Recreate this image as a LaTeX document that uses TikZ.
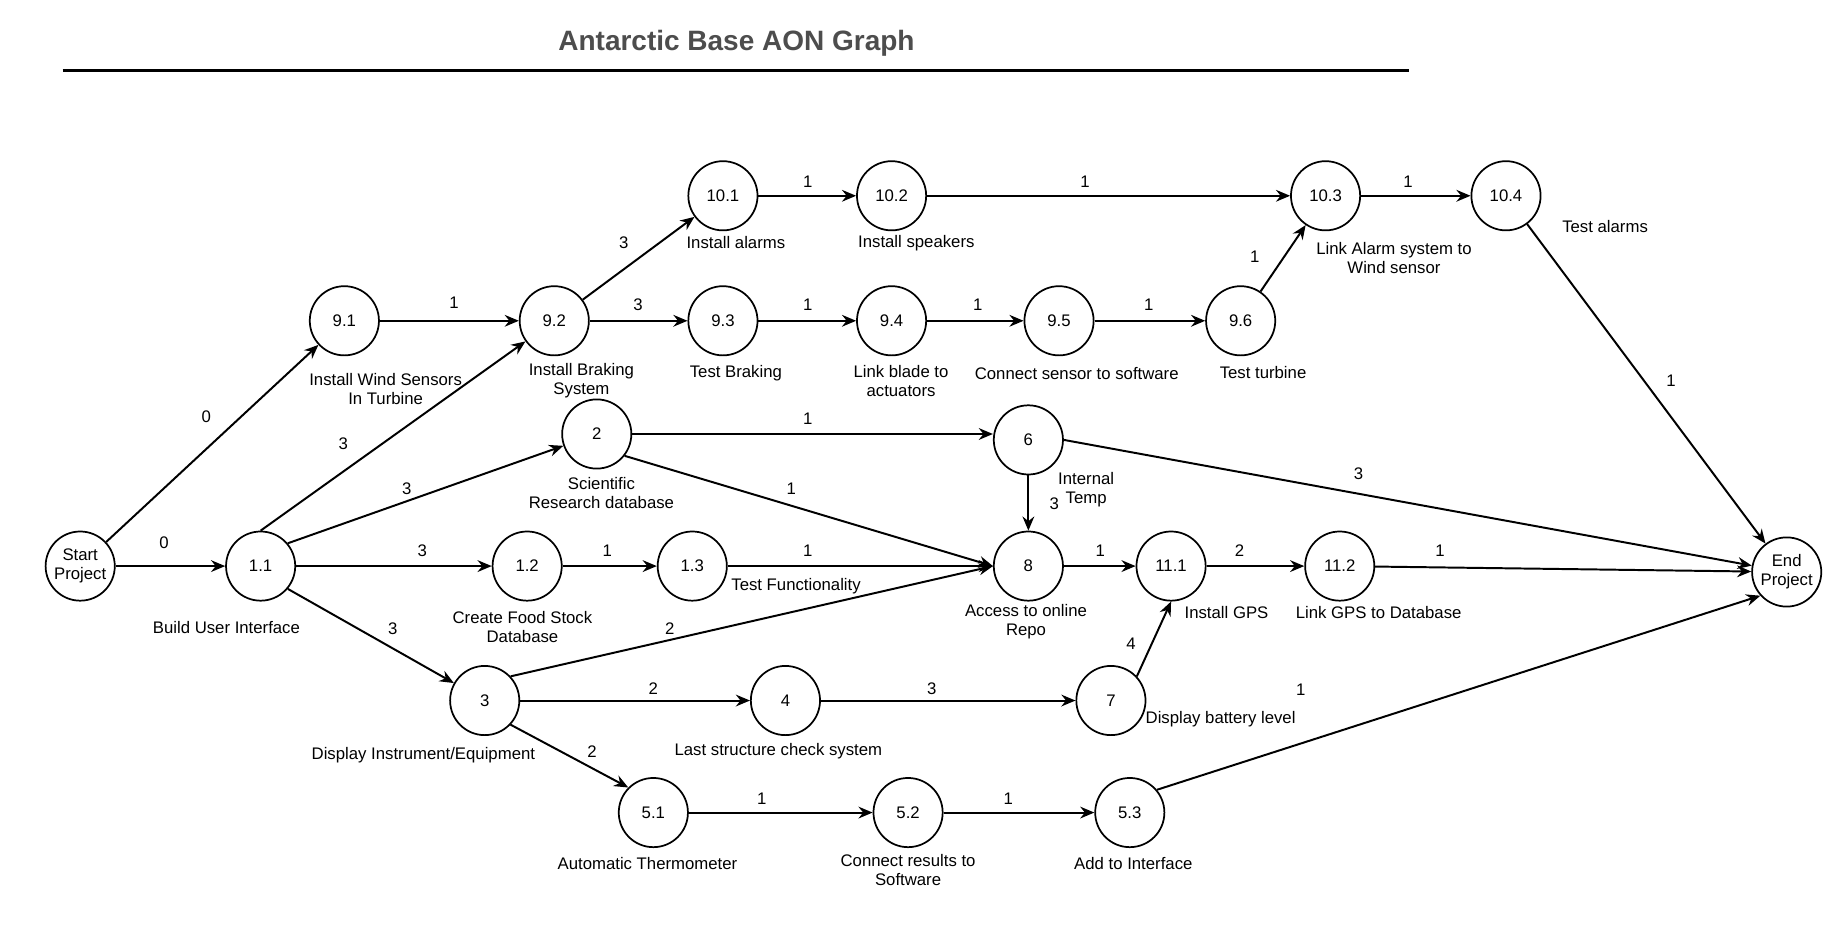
\documentclass[tikz,border=0pt]{standalone}
\usepackage{fontspec}
\setmainfont{Liberation Sans}
\usepackage{tikz}
\usetikzlibrary{arrows.meta}
\definecolor{titlegray}{RGB}{77,77,77}

\begin{document}
\begin{tikzpicture}[x=0.75pt,y=-0.75pt,
act/.style={circle,draw,line width=1.1pt,minimum size=44pt,inner sep=0pt,align=center,font=\fontsize{10.65}{12}\selectfont},
txt/.style={align=center,inner sep=0pt,font=\fontsize{10.65}{12}\selectfont},
wt/.style={inner sep=0pt,font=\fontsize{10.65}{12}\selectfont},
arr/.style={line width=1.25pt,-{Stealth[length=9pt,width=7.5pt,inset=3pt]}}]
\useasboundingbox (0,0) rectangle (1567,788.5);

\node[font=\fontsize{17.8}{20}\selectfont\bfseries,text=titlegray,anchor=base] (title) at (624.5,43) {Antarctic Base AON Graph};
\coordinate (rulel) at (53,60);
\coordinate (ruler) at (1195,60);
\draw[line width=2pt] (rulel) -- (ruler);

\node[act] (start) at (68,480) {Start\\Project};
\node[act] (n11) at (221,480) {1.1};
\node[act] (n91) at (292,272) {9.1};
\node[act] (n92) at (470,272) {9.2};
\node[act] (n101) at (613,166) {10.1};
\node[act] (n102) at (756,166) {10.2};
\node[act] (n103) at (1124,166) {10.3};
\node[act] (n104) at (1277,166) {10.4};
\node[act] (n93) at (613,272) {9.3};
\node[act] (n94) at (756,272) {9.4};
\node[act] (n95) at (898,272) {9.5};
\node[act] (n96) at (1052,272) {9.6};
\node[act] (n2) at (506,368) {2};
\node[act] (n6) at (872,373) {6};
\node[act] (n12) at (447,480) {1.2};
\node[act] (n13) at (587,480) {1.3};
\node[act] (n8) at (872,480) {8};
\node[act] (n111) at (993,480) {11.1};
\node[act] (n112) at (1136,480) {11.2};
\node[act] (nend) at (1515,485) {End\\Project};
\node[act] (n3) at (411,594) {3};
\node[act] (n4) at (666,594) {4};
\node[act] (n7) at (942,594) {7};
\node[act] (n51) at (554,689) {5.1};
\node[act] (n52) at (770,689) {5.2};
\node[act] (n53) at (958,689) {5.3};

\node[txt] (l91) at (327,330) {Install Wind Sensors\\In Turbine};
\node[txt] (l92) at (493,323) {Install Braking\\System};
\node[txt] (l101) at (624,206) {Install alarms};
\node[txt] (l102) at (777,206) {Install speakers};
\node[txt] (l103) at (1182,219) {Link Alarm system to\\Wind sensor};
\node[txt] (l104) at (1361,192) {Test alarms};
\node[txt] (l93) at (624,316) {Test Braking};
\node[txt] (l94) at (764,323) {Link blade to\\actuators};
\node[txt] (l95) at (913,317) {Connect sensor to software};
\node[txt] (l96) at (1071,316) {Test turbine};
\node[txt] (l2) at (510,418) {Scientific\\Research database};
\node[txt] (l6) at (921,415) {Internal\\Temp};
\node[txt] (l11) at (192,532) {Build User Interface};
\node[txt] (l12) at (443,532) {Create Food Stock\\Database};
\node[txt] (l13) at (675,497) {Test Functionality};
\node[txt] (l8) at (870,527) {Access to online\\Repo};
\node[txt] (l111) at (1040,519) {Install GPS};
\node[txt] (l112) at (1169,519) {Link GPS to Database};
\node[txt] (l7) at (1035,610) {Display battery level};
\node[txt] (l3) at (359,640) {Display Instrument/Equipment};
\node[txt] (l4) at (660,637) {Last structure check system};
\node[txt] (l51) at (549,732) {Automatic Thermometer};
\node[txt] (l52) at (770,738) {Connect results to\\Software};
\node[txt] (l53) at (961,732) {Add to Interface};

\draw[arr] (start) -- (n91) node[wt] (w1) at (175,353) {0};
\draw[arr] (start) -- (n11) node[wt] (w2) at (139,460) {0};
\draw[arr] (n11.north) -- (n92) node[wt] (w3) at (291,376) {3};
\draw[arr] (n11.40) -- (n2) node[wt] (w4) at (345,414) {3};
\draw[arr] (n11) -- (n12) node[wt] (w5) at (358,467) {3};
\draw[arr] (n11.-40) -- (n3) node[wt] (w6) at (333,533) {3};
\draw[arr] (n91) -- (n92) node[wt] (w7) at (385,257) {1};
\draw[arr] (n92) -- (n101) node[wt] (w8) at (529,206) {3};
\draw[arr] (n92) -- (n93) node[wt] (w9) at (541,258) {3};
\draw[arr] (n101) -- (n102) node[wt] (w10) at (685,154) {1};
\draw[arr] (n102) -- (n103) node[wt] (w11) at (920,154) {1};
\draw[arr] (n103) -- (n104) node[wt] (w12) at (1194,154) {1};
\draw[arr] (n93) -- (n94) node[wt] (w13) at (685,258) {1};
\draw[arr] (n94) -- (n95) node[wt] (w14) at (829,258) {1};
\draw[arr] (n95) -- (n96) node[wt] (w15) at (974,258) {1};
\draw[arr] (n96) -- (n103) node[wt] (w16) at (1064,218) {1};
\draw[arr] (n104) -- (nend) node[wt] (w17) at (1417,323) {1};
\draw[arr] (n2.east) -- (n2.east -| n6.west) node[wt] (w18) at (685,355) {1};
\draw[arr] (n2.-38) -- (n8.west) node[wt] (w19) at (671,414) {1};
\draw[arr] (n6.east) -- (nend) node[wt] (w20) at (1152,402) {3};
\draw[arr] (n6) -- (n8) node[wt] (w21) at (894,427) {3};
\draw[arr] (n12) -- (n13) node[wt] (w22) at (515,467) {1};
\draw[arr] (n13) -- (n8) node[wt] (w23) at (685,467) {1};
\draw[arr] (n8) -- (n111) node[wt] (w24) at (933,467) {1};
\draw[arr] (n111) -- (n112) node[wt] (w25) at (1051,467) {2};
\draw[arr] (n112) -- (nend) node[wt] (w26) at (1221,467) {1};
\draw[arr] (n3.43) -- (n8.west) node[wt] (w27) at (568,533) {2};
\draw[arr] (n3) -- (n4) node[wt] (w28) at (554,584) {2};
\draw[arr] (n4) -- (n7) node[wt] (w29) at (790,584) {3};
\draw[arr] (n7.43) -- (n111.south) node[wt] (w30) at (959,546) {4};
\draw[arr] (n3.-43) -- (n51.135) node[wt] (w31) at (502,637) {2};
\draw[arr] (n51) -- (n52) node[wt] (w32) at (646,677) {1};
\draw[arr] (n52) -- (n53) node[wt] (w33) at (855,677) {1};
\draw[arr] (n53.40) -- (nend.222) node[wt] (w34) at (1103,585) {1};
\end{tikzpicture}
\end{document}
